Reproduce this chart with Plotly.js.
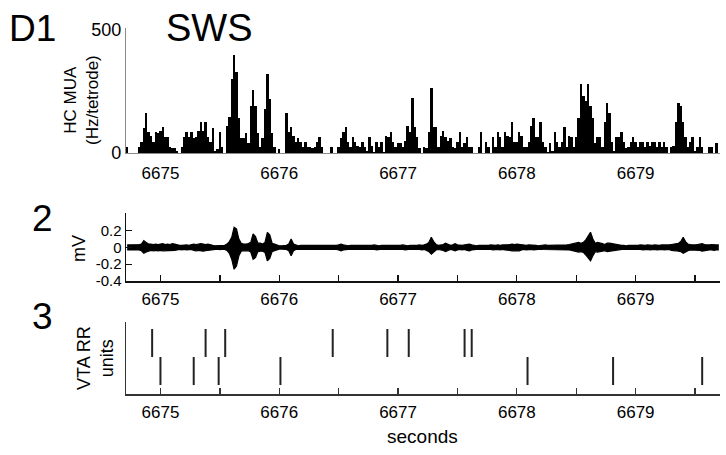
<!DOCTYPE html>
<html>
<head>
<meta charset="utf-8">
<script src="https://cdn.plot.ly/plotly-3.0.1.min.js"></script>
<style>html,body{margin:0;padding:0;background:#fff;}#chart{width:726px;height:455px;}</style>
</head>
<body>
<div id="chart"></div>
<script>
// ---- Data ----
// Panel 1: HC multi-unit activity, 20 ms bins starting at binStart
var binStart = 6674.71;
var binWidth = 0.02;
var muaRate = [
 24,0,0,0,0,24,44,100,164,84,
 70,44,84,80,90,104,64,64,24,20,
 20,10,0,24,64,84,64,84,60,64,
 90,124,90,124,64,44,100,10,15,84,
 24,0,110,146,300,400,330,144,60,60,
 80,40,190,255,190,80,24,60,180,320,
 220,80,24,0,15,0,0,164,84,104,
 70,44,60,44,24,44,24,24,20,24,
 44,64,24,0,0,0,24,0,0,24,
 60,84,104,44,24,64,44,30,24,44,
 24,10,64,30,5,44,24,44,5,70,
 64,84,44,24,40,40,24,50,110,84,
 224,104,64,20,0,24,20,84,264,104,
 104,24,70,90,64,50,60,24,20,44,
 84,24,40,64,24,24,0,0,24,84,
 0,44,24,0,64,24,84,64,24,84,
 70,64,124,44,44,84,70,24,24,44,
 110,144,64,64,124,44,24,5,40,10,
 84,44,24,44,104,24,70,64,24,64,
 144,280,230,210,280,190,144,40,64,64,
 24,124,204,164,44,10,64,64,84,44,
 20,24,44,64,44,24,44,44,24,44,
 30,44,44,24,44,24,44,24,0,24,
 30,124,204,190,124,64,24,44,64,10,
 24,64,24,0,0,24,24,0,40
];

// Panel 2: LFP envelope (mV), same 20 ms grid
var lfpUpper = [
 0.03,0.03,0.035,0.03,0.03,0.035,0.04,0.08,0.06,0.04,
 0.04,0.035,0.04,0.035,0.04,0.045,0.035,0.04,0.035,0.045,
 0.04,0.03,0.025,0.025,0.03,0.03,0.025,0.03,0.04,0.035,
 0.04,0.045,0.04,0.035,0.04,0.03,0.025,0.02,0.02,0.02,
 0.02,0.025,0.04,0.07,0.12,0.24,0.22,0.1,0.05,0.04,
 0.04,0.045,0.06,0.16,0.13,0.05,0.05,0.04,0.06,0.18,
 0.15,0.05,0.04,0.025,0.02,0.02,0.02,0.025,0.04,0.1,
 0.04,0.025,0.02,0.025,0.025,0.02,0.025,0.025,0.02,0.025,
 0.025,0.02,0.025,0.025,0.02,0.025,0.02,0.025,0.025,0.03,
 0.04,0.03,0.025,0.02,0.025,0.025,0.02,0.025,0.025,0.02,
 0.025,0.025,0.02,0.025,0.03,0.025,0.02,0.025,0.025,0.02,
 0.025,0.02,0.025,0.025,0.02,0.025,0.03,0.025,0.02,0.025,
 0.025,0.02,0.025,0.03,0.025,0.03,0.04,0.06,0.12,0.07,
 0.035,0.025,0.03,0.035,0.05,0.04,0.025,0.03,0.045,0.03,
 0.025,0.025,0.03,0.035,0.04,0.03,0.025,0.02,0.025,0.025,
 0.02,0.025,0.025,0.03,0.025,0.025,0.03,0.025,0.03,0.03,
 0.035,0.035,0.04,0.035,0.04,0.035,0.03,0.025,0.025,0.03,
 0.03,0.025,0.025,0.02,0.025,0.025,0.03,0.025,0.025,0.025,
 0.03,0.025,0.025,0.03,0.025,0.03,0.035,0.04,0.045,0.05,
 0.06,0.05,0.06,0.09,0.13,0.18,0.1,0.05,0.06,0.055,
 0.045,0.035,0.05,0.05,0.045,0.04,0.03,0.025,0.025,0.025,
 0.02,0.025,0.025,0.02,0.025,0.025,0.03,0.025,0.025,0.03,
 0.025,0.025,0.03,0.025,0.025,0.03,0.03,0.025,0.03,0.035,
 0.04,0.045,0.05,0.07,0.12,0.07,0.04,0.035,0.03,0.03,
 0.035,0.04,0.045,0.035,0.03,0.03,0.035,0.03,0.03,0.03
];
var lfpLower = [
 -0.03,-0.03,-0.03,-0.035,-0.03,-0.03,-0.04,-0.07,-0.055,-0.04,
 -0.035,-0.04,-0.035,-0.04,-0.035,-0.04,-0.04,-0.035,-0.04,-0.04,
 -0.035,-0.03,-0.025,-0.03,-0.025,-0.03,-0.03,-0.025,-0.035,-0.04,
 -0.035,-0.04,-0.045,-0.04,-0.035,-0.03,-0.025,-0.02,-0.02,-0.025,
 -0.02,-0.025,-0.035,-0.07,-0.14,-0.26,-0.22,-0.1,-0.045,-0.04,
 -0.04,-0.04,-0.055,-0.14,-0.12,-0.05,-0.045,-0.045,-0.06,-0.16,
 -0.13,-0.05,-0.04,-0.025,-0.02,-0.02,-0.02,-0.025,-0.04,-0.1,
 -0.04,-0.025,-0.025,-0.02,-0.025,-0.025,-0.02,-0.025,-0.02,-0.025,
 -0.02,-0.025,-0.025,-0.02,-0.025,-0.025,-0.025,-0.02,-0.025,-0.03,
 -0.04,-0.03,-0.025,-0.025,-0.02,-0.025,-0.025,-0.02,-0.025,-0.025,
 -0.02,-0.025,-0.025,-0.02,-0.025,-0.03,-0.025,-0.02,-0.025,-0.025,
 -0.02,-0.025,-0.025,-0.02,-0.025,-0.025,-0.025,-0.03,-0.025,-0.02,
 -0.025,-0.025,-0.02,-0.025,-0.03,-0.025,-0.035,-0.05,-0.08,-0.06,
 -0.03,-0.025,-0.03,-0.035,-0.05,-0.04,-0.025,-0.03,-0.04,-0.03,
 -0.025,-0.03,-0.025,-0.035,-0.04,-0.03,-0.025,-0.025,-0.02,-0.025,
 -0.025,-0.02,-0.025,-0.025,-0.03,-0.025,-0.025,-0.03,-0.025,-0.03,
 -0.03,-0.035,-0.04,-0.04,-0.035,-0.04,-0.03,-0.025,-0.03,-0.025,
 -0.025,-0.03,-0.025,-0.025,-0.02,-0.025,-0.025,-0.03,-0.025,-0.025,
 -0.025,-0.03,-0.025,-0.025,-0.03,-0.025,-0.03,-0.035,-0.04,-0.05,
 -0.055,-0.05,-0.06,-0.09,-0.12,-0.16,-0.1,-0.05,-0.055,-0.05,
 -0.045,-0.04,-0.05,-0.045,-0.045,-0.035,-0.03,-0.025,-0.025,-0.02,
 -0.025,-0.025,-0.02,-0.025,-0.025,-0.02,-0.025,-0.03,-0.025,-0.025,
 -0.03,-0.025,-0.025,-0.03,-0.025,-0.025,-0.03,-0.03,-0.025,-0.035,
 -0.035,-0.04,-0.045,-0.05,-0.07,-0.05,-0.04,-0.03,-0.03,-0.03,
 -0.03,-0.035,-0.045,-0.04,-0.03,-0.03,-0.03,-0.035,-0.03,-0.03
];

// Panel 3: VTA reward-responsive unit spike times (s)
var unitUpperSpikes = [6674.93, 6675.38, 6675.545, 6676.45, 6676.91, 6677.09, 6677.56, 6677.62];
var unitLowerSpikes = [6675.00, 6675.28, 6675.49, 6676.01, 6678.09, 6678.81, 6679.56];

// Axis ticks
var secondTicks = [6675, 6676, 6677, 6678, 6679];
var halfSecondTicks = [6675, 6675.5, 6676, 6676.5, 6677, 6677.5, 6678, 6678.5, 6679, 6679.5];
var mvTicks = [-0.4, -0.2, 0, 0.2];
var mvTickText = ['-0.4', '-0.2', '0', '0.2'];
var muaTicks = [0, 500];

// ---- Build traces ----
var binCenters = muaRate.map(function (v, i) { return binStart + (i + 0.5) * binWidth; });
var lfpTimes = lfpUpper.map(function (v, i) { return binStart + (i + 0.5) * binWidth; });

function rasterXY(times, y0, y1) {
  var xs = [], ys = [];
  times.forEach(function (t) { xs.push(t, t, null); ys.push(y0, y1, null); });
  return {x: xs, y: ys};
}
var rU = rasterXY(unitUpperSpikes, 1, 2);
var rL = rasterXY(unitLowerSpikes, 0, 1);

var traces = [
  {type: 'bar', x: binCenters, y: muaRate, width: binWidth, xaxis: 'x', yaxis: 'y',
   marker: {color: '#000', line: {width: 0}}},
  {type: 'scatter', mode: 'lines', x: lfpTimes, y: lfpLower, xaxis: 'x2', yaxis: 'y2',
   line: {color: '#000', width: 1.2}},
  {type: 'scatter', mode: 'lines', x: lfpTimes, y: lfpUpper, xaxis: 'x2', yaxis: 'y2',
   line: {color: '#000', width: 1.2}, fill: 'tonexty', fillcolor: '#000'},
  {type: 'scatter', mode: 'lines', x: rU.x, y: rU.y, xaxis: 'x3', yaxis: 'y3',
   line: {color: '#222', width: 2}, connectgaps: false},
  {type: 'scatter', mode: 'lines', x: rL.x, y: rL.y, xaxis: 'x3', yaxis: 'y3',
   line: {color: '#222', width: 2}, connectgaps: false}
];

var W = 726, H = 455;
function px(x) { return x / W; }
function py(y) { return 1 - y / H; }
var xdom = [px(126), px(720)];
var xr = [6674.71, 6679.71];
var fontFam = 'Liberation Sans, Arial, Helvetica, sans-serif';

var layout = {
  width: W, height: H,
  margin: {l: 0, r: 0, t: 0, b: 0},
  paper_bgcolor: '#fff', plot_bgcolor: '#fff',
  showlegend: false,
  bargap: 0,
  font: {family: fontFam, color: '#000'},
  xaxis: {domain: xdom, range: xr, anchor: 'y', showline: true, linecolor: '#8a8a8a', linewidth: 1.2,
          ticks: '', tickvals: secondTicks, ticktext: secondTicks.map(String), tickfont: {size: 17},
          ticklabelstandoff: 4, showgrid: false, zeroline: false, fixedrange: true},
  yaxis: {domain: [py(153), py(28)], range: [0, 508], showline: true, linecolor: '#8a8a8a', linewidth: 1.2,
          ticks: '', tickvals: muaTicks, ticktext: muaTicks.map(String), tickfont: {size: 18},
          showgrid: false, zeroline: false},
  xaxis2: {domain: xdom, range: xr, anchor: 'y2', showline: true, linecolor: '#111', linewidth: 1.5,
           ticks: 'inside', ticklen: 6, tickwidth: 1.3, tickcolor: '#111', ticklabelstandoff: 2,
           tickvals: halfSecondTicks, ticktext: halfSecondTicks.map(function (t) { return t % 1 === 0 ? String(t) : ''; }),
           tickfont: {size: 17}, showgrid: false, zeroline: false},
  yaxis2: {domain: [py(281), py(213)], range: [-0.4, 0.41], showline: true, linecolor: '#111', linewidth: 1.5,
           ticks: 'inside', ticklen: 6, tickwidth: 1.3, tickcolor: '#111',
           tickvals: mvTicks, ticktext: mvTickText, tickfont: {size: 15},
           showgrid: false, zeroline: false},
  xaxis3: {domain: xdom, range: xr, anchor: 'y3', showline: true, linecolor: '#333', linewidth: 1.5,
           ticks: 'inside', ticklen: 6, tickwidth: 1.3, tickcolor: '#333', ticklabelstandoff: 2,
           tickvals: halfSecondTicks, ticktext: halfSecondTicks.map(function (t) { return t % 1 === 0 ? String(t) : ''; }),
           tickfont: {size: 17}, showgrid: false, zeroline: false},
  yaxis3: {domain: [py(394), py(322)], range: [-0.32, 2.25], showline: true, linecolor: '#333', linewidth: 1.5,
           ticks: '', showticklabels: false, showgrid: false, zeroline: false},
  annotations: [
    {text: 'D1', x: px(32), y: py(29), xref: 'paper', yref: 'paper', showarrow: false, font: {size: 37}, xanchor: 'center', yanchor: 'middle'},
    {text: 'SWS', x: px(210), y: py(28), xref: 'paper', yref: 'paper', showarrow: false, font: {size: 38}, xanchor: 'center', yanchor: 'middle'},
    {text: '2', x: px(42), y: py(218), xref: 'paper', yref: 'paper', showarrow: false, font: {size: 37}, xanchor: 'center', yanchor: 'middle'},
    {text: '3', x: px(42), y: py(316), xref: 'paper', yref: 'paper', showarrow: false, font: {size: 37}, xanchor: 'center', yanchor: 'middle'},
    {text: 'HC MUA<br>(Hz/tetrode)', x: px(81), y: py(100), xref: 'paper', yref: 'paper', showarrow: false, textangle: -90, font: {size: 17}, xanchor: 'center', yanchor: 'middle'},
    {text: 'mV', x: px(79), y: py(249), xref: 'paper', yref: 'paper', showarrow: false, textangle: -90, font: {size: 18}, xanchor: 'center', yanchor: 'middle'},
    {text: 'VTA RR<br>units', x: px(95), y: py(358), xref: 'paper', yref: 'paper', showarrow: false, textangle: -90, font: {size: 18}, xanchor: 'center', yanchor: 'middle'},
    {text: 'seconds', x: px(422), y: py(436), xref: 'paper', yref: 'paper', showarrow: false, font: {size: 19}, xanchor: 'center', yanchor: 'middle'}
  ]
};

Plotly.newPlot('chart', traces, layout, {staticPlot: true, displayModeBar: false});
</script>
</body>
</html>
